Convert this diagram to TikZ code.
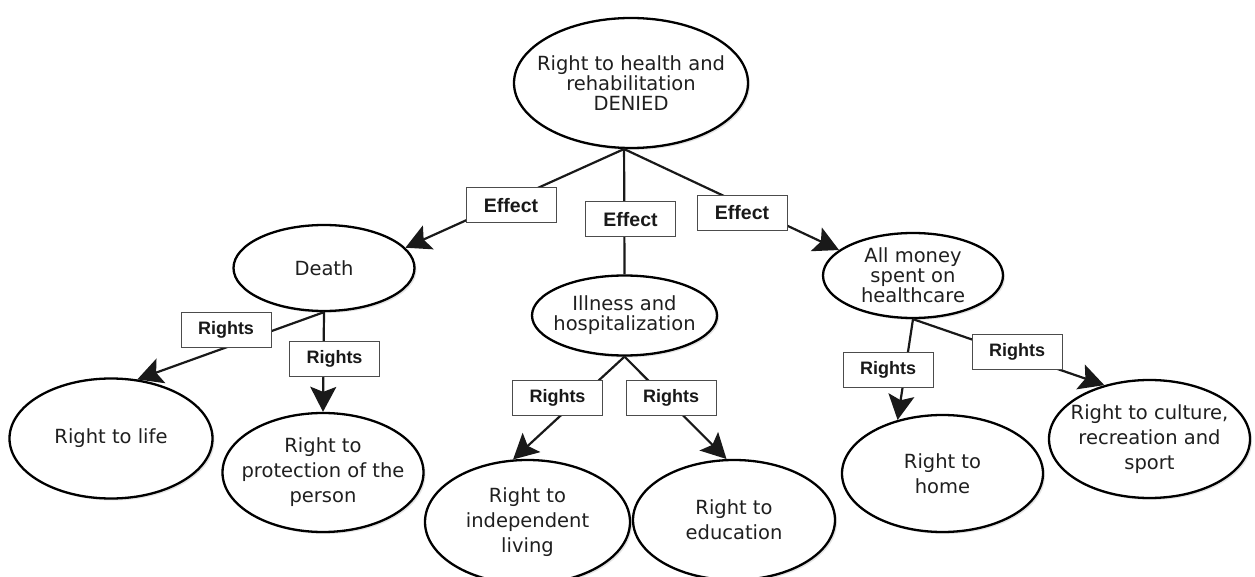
\documentclass[tikz,border=0pt]{standalone}
\usepackage{fontspec}
\setmainfont{DejaVu Sans}
\newfontfamily\lblfont{Liberation Sans}
\usetikzlibrary{shapes.geometric,arrows.meta,shadows}
\begin{document}
\begin{tikzpicture}[x=1pt,y=-1pt,
  bub/.style={ellipse, draw=black, line width=2.3pt, fill=white, inner sep=-40pt,
    align=center, text=black!88, font=\fontsize{19.5}{20}\selectfont,
    drop shadow={shadow xshift=2pt,shadow yshift=-2pt,opacity=0.22}},
  bubl/.style={bub, font=\fontsize{19.5}{25}\selectfont},
  lbl/.style={rectangle, draw=black!70, line width=1pt, fill=white,
    minimum width=90pt, minimum height=35pt, inner sep=0pt, text=black!90,
    font=\lblfont\bfseries\fontsize{18}{20}\selectfont},
  eff/.style={lbl, font=\lblfont\bfseries\fontsize{19.5}{20}\selectfont},
  con/.style={line width=2.2pt, draw=black!90},
  arr/.style={con, -{Stealth[length=25pt,width=26pt,inset=5pt]}}]
\clip (0,0) rectangle (1255,577);
% ellipses
\node[bub, minimum width=234pt, minimum height=130pt] (top) at (631,83) {Right to health and\\rehabilitation\\DENIED};
\node[bub, minimum width=181pt, minimum height=86pt] (death) at (324,268) {Death};
\node[bub, minimum width=185pt, minimum height=80pt] (ill) at (624.5,315.5) {Illness and\\hospitalization};
\node[bub, minimum width=180pt, minimum height=85pt] (money) at (913,275.5) {All money\\spent on\\healthcare};
\node[bubl, minimum width=203pt, minimum height=120pt] (life) at (111,438.5) {Right to life};
\node[bubl, minimum width=201pt, minimum height=119pt] (prot) at (323,472.5) {Right to\\protection of the\\person};
\node[bubl, minimum width=205pt, minimum height=124pt] (indep) at (527.5,522) {Right to\\independent\\living};
\node[bubl, minimum width=202pt, minimum height=120pt] (educ) at (734,520) {Right to\\education};
\node[bubl, minimum width=201pt, minimum height=117pt] (home) at (942.5,473.5) {Right to\\home};
\node[bubl, minimum width=201pt, minimum height=118pt] (cult) at (1149.5,439) {Right to culture,\\recreation and\\sport};
% connectors
\draw[arr] (top.264) -- (death.14);
\draw[con] (top.264) -- (ill.north);
\draw[arr] (top.264) -- (money.161);
\draw[arr] (death.south) -- (life.66);
\draw[arr] (death.south) -- (prot.north);
\draw[arr] (ill.south) -- (indep.103);
\draw[arr] (ill.south) -- (educ.97);
\draw[arr] (money.south) -- (home.130);
\draw[arr] (money.south) -- (cult.130);
% labels
\node[eff] (e1) at (511,205.5) {Effect};
\node[eff] (e2) at (630.5,219.5) {Effect};
\node[eff] (e3) at (742,213) {Effect};
\node[lbl] (r1) at (226,329.5) {Rights};
\node[lbl] (r2) at (334.5,359) {Rights};
\node[lbl] (r3) at (557.5,397.5) {Rights};
\node[lbl] (r4) at (671,397.5) {Rights};
\node[lbl] (r5) at (888,369.5) {Rights};
\node[lbl] (r6) at (1017,352) {Rights};
\end{tikzpicture}
\end{document}
